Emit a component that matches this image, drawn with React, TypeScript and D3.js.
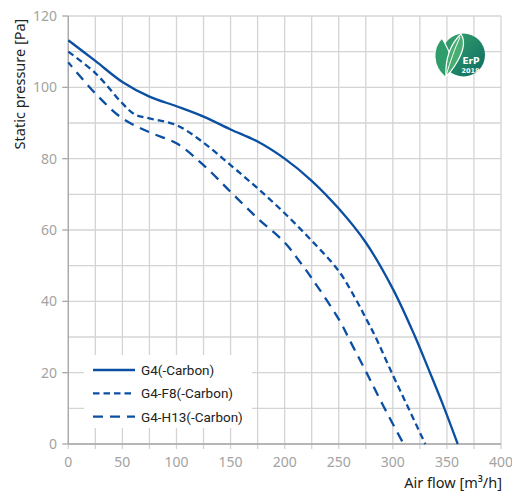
import React, { useEffect, useRef } from "react";
import * as d3 from "d3";

const g4X = [0, 25, 50, 75, 100, 125, 150, 175, 200, 225, 250, 275, 300, 320, 333, 347, 360];
const g4Y = [113.2, 107.4, 101.5, 97.4, 94.7, 91.8, 88.2, 84.8, 80, 73.8, 66, 56.5, 43.5, 30.5, 21, 10.5, 0];
const f8X = [0, 25, 50, 62, 75, 100, 125, 150, 175, 200, 225, 250, 265, 275, 284, 299, 314.5, 330];
const f8Y = [110, 104, 95.5, 92.3, 91.3, 89.4, 84.5, 78.2, 71.7, 64.7, 57, 48.5, 41, 35.3, 30, 20, 10, 0];
const h13X = [0, 25, 50, 75, 100, 125, 150, 175, 200, 214, 225, 250, 262, 276, 291, 310];
const h13Y = [107, 98.3, 91.3, 87.4, 84.3, 78.2, 70.7, 63.3, 56.5, 51.1, 46.5, 35, 28, 19.8, 10.8, 0];
const seriesNames = ["G4(-Carbon)", "G4-F8(-Carbon)", "G4-H13(-Carbon)"];
const seriesDash = ["none", "6.5 4", "10 7"];
const xTicks = [0, 50, 100, 150, 200, 250, 300, 350, 400];
const xGrid = d3.range(0, 401, 25);
const yTicks = [0, 20, 40, 60, 80, 100, 120];
const yGrid = d3.range(0, 121, 10);

const BLUE = "#0b4fa3";

export default function App() {
  const ref = useRef<SVGSVGElement>(null);
  useEffect(() => {
    document.body.style.margin = "0";
    const svg = d3.select(ref.current);
    svg.selectAll("*").remove();
    const x = d3.scaleLinear().domain([0, 400]).range([68.3, 501]);
    const y = d3.scaleLinear().domain([0, 120]).range([444, 16]);

    const grid = svg.append("g");
    grid.selectAll("line.v").data(xGrid).join("line")
      .attr("x1", d => x(d)).attr("x2", d => x(d))
      .attr("y1", y(120)).attr("y2", y(0) + 5)
      .attr("stroke", "#d4d4d4").attr("stroke-width", 1.3);
    grid.selectAll("line.h").data(yGrid).join("line")
      .attr("x1", x(0)).attr("x2", x(400))
      .attr("y1", d => y(d)).attr("y2", d => y(d))
      .attr("stroke", "#d4d4d4").attr("stroke-width", 1.3);

    svg.append("line").attr("x1", x(0)).attr("x2", x(0)).attr("y1", y(120)).attr("y2", y(0))
      .attr("stroke", "#a8a8a8").attr("stroke-width", 1.3);
    svg.append("line").attr("x1", x(0)).attr("x2", x(400)).attr("y1", y(0)).attr("y2", y(0))
      .attr("stroke", "#a8a8a8").attr("stroke-width", 1.3);
    svg.selectAll("line.yt").data(yTicks).join("line")
      .attr("x1", x(0) - 6).attr("x2", x(0)).attr("y1", d => y(d)).attr("y2", d => y(d))
      .attr("stroke", "#a8a8a8").attr("stroke-width", 1.3);

    const font = "'Noto Sans', 'Open Sans', sans-serif";
    svg.selectAll("text.xt").data(xTicks).join("text")
      .attr("x", d => x(d)).attr("y", 467).attr("text-anchor", "middle")
      .attr("font-family", font).attr("font-size", 14).attr("fill", "#a3a3a3").text(d => d);
    svg.selectAll("text.yt").data(yTicks).join("text")
      .attr("x", 57).attr("y", d => y(d) + 5).attr("text-anchor", "end")
      .attr("font-family", font).attr("font-size", 14).attr("fill", "#a3a3a3").text(d => d);

    svg.append("text").attr("x", 502).attr("y", 488).attr("text-anchor", "end")
      .attr("font-family", font).attr("font-size", 14.5).attr("fill", "#222").text("Air flow [m³/h]");
    svg.append("text").attr("transform", "translate(25,84) rotate(-90)").attr("text-anchor", "middle")
      .attr("font-family", font).attr("font-size", 14.5).attr("fill", "#222").text("Static pressure [Pa]");

    const line = d3.line<[number, number]>().x(d => x(d[0])).y(d => y(d[1])).curve(d3.curveCatmullRom.alpha(0.5));
    const data: [number, number][][] = [
      g4X.map((v, i) => [v, g4Y[i]] as [number, number]),
      f8X.map((v, i) => [v, f8Y[i]] as [number, number]),
      h13X.map((v, i) => [v, h13Y[i]] as [number, number]),
    ];
    data.forEach((d, i) => {
      svg.append("path").attr("d", line(d)!).attr("fill", "none").attr("stroke", BLUE)
        .attr("stroke-width", 2.3).attr("stroke-dasharray", seriesDash[i])
        .attr("stroke-dashoffset", i === 2 ? 4 : 0);
    });

    const lg = svg.append("g");
    lg.append("rect").attr("x", 84).attr("y", 355).attr("width", 168).attr("height", 73).attr("fill", "#fff");
    seriesNames.forEach((name, i) => {
      const yy = 370 + i * 23.3;
      lg.append("line").attr("x1", 93).attr("x2", 135).attr("y1", yy).attr("y2", yy)
        .attr("stroke", BLUE).attr("stroke-width", 2.3).attr("stroke-dasharray", seriesDash[i]);
      lg.append("text").attr("x", 141).attr("y", yy + 5).attr("font-family", "Roboto, sans-serif")
        .attr("font-size", 13.5).attr("fill", "#222").text(name);
    });

    const defs = svg.append("defs");
    const gr = defs.append("linearGradient").attr("id", "erpG").attr("x1", "0").attr("y1", "0").attr("x2", "1").attr("y2", "1");
    gr.append("stop").attr("offset", "0").attr("stop-color", "#3aa66e");
    gr.append("stop").attr("offset", "1").attr("stop-color", "#0b6b62");
    const logo = svg.append("g");
    logo.append("circle").attr("cx", 463.5).attr("cy", 55).attr("r", 21.5).attr("fill", "url(#erpG)");
    logo.append("path")
      .attr("d", "M445,77 C432,66 432,48 442,38 C446,46 452,54 452,64 C452,70 449,74 445,77 Z")
      .attr("fill", "#2f9c6c").attr("stroke", "#fff").attr("stroke-width", 1.2);
    logo.append("path")
      .attr("d", "M446,76 C445,60 450,44 461,34 C466,42 463,52 457,62 C453,69 450,73 446,76 Z")
      .attr("fill", "#47ad73").attr("stroke", "#fff").attr("stroke-width", 1.2);
    logo.append("path").attr("d", "M446,76 C450,62 455,48 460,37").attr("fill", "none")
      .attr("stroke", "#fff").attr("stroke-width", 1);
    logo.append("text").attr("x", 471).attr("y", 64).attr("text-anchor", "middle")
      .attr("font-family", "'DejaVu Sans', sans-serif").attr("font-size", 9).attr("font-weight", "bold")
      .attr("fill", "#fff").text("ErP");
    logo.append("text").attr("x", 470.5).attr("y", 73).attr("text-anchor", "middle")
      .attr("font-family", "'DejaVu Sans', sans-serif").attr("font-size", 6.5).attr("font-weight", "bold")
      .attr("fill", "#fff").text("2018");
  }, []);
  return (
    <svg ref={ref} width={512} height={493} style={{ position: "absolute", left: 0, top: 0, background: "#fff" }} />
  );
}
